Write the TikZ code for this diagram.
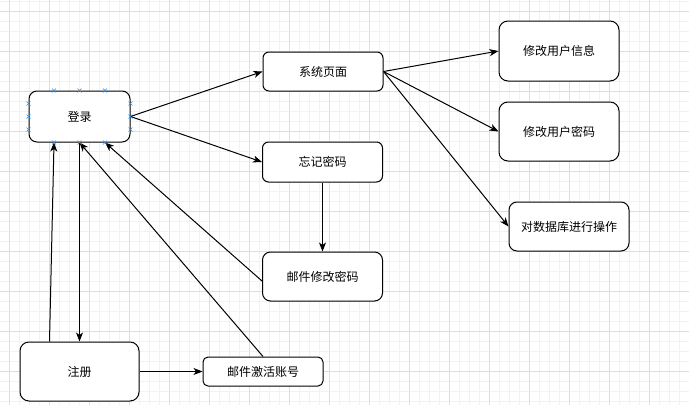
\documentclass[tikz,border=0pt]{standalone}
\usepackage{fontspec}
\setmainfont{Noto Sans CJK SC}
\usetikzlibrary{arrows.meta,calc}
\definecolor{mk}{HTML}{1E90FF}
\begin{document}
\begin{tikzpicture}[x=1pt,y=-1pt,
  box/.style={draw=black,line width=1pt,fill=white,inner sep=0pt,font=\fontsize{12pt}{14pt}\selectfont},
  conn/.style={line width=1pt,-{Stealth[length=9pt,width=7pt,inset=2.5pt]}},
  mkx/.style={draw=mk,line width=0.6pt}]
\useasboundingbox (0,0) rectangle (689,405);
\fill[white] (0,0) rectangle (689,405);
% grid
\foreach \x in {9,19,...,689} \draw[line width=0.6pt,black!5] (\x,0) -- (\x,405);
\foreach \y in {1,11,...,405} \draw[line width=0.6pt,black!5] (0,\y) -- (689,\y);
\foreach \x in {9,49,...,689} \draw[line width=0.8pt,black!13] (\x,0) -- (\x,405);
\foreach \y in {11,51,...,405} \draw[line width=0.8pt,black!13] (0,\y) -- (689,\y);
% nodes
\node[box,rounded corners=8pt,minimum width=101pt,minimum height=51pt] (login) at (79.5,116.5) {登录};
\node[box,rounded corners=6pt,minimum width=120pt,minimum height=39pt] (sys) at (323,71.5) {系统页面};
\node[box,rounded corners=6pt,minimum width=120pt,minimum height=40pt] (forget) at (322.5,162) {忘记密码};
\node[box,rounded corners=8pt,minimum width=120pt,minimum height=49pt] (mailpw) at (322.5,276.5) {邮件修改密码};
\node[box,rounded corners=9pt,minimum width=120pt,minimum height=60pt] (info) at (559,51) {修改用户信息};
\node[box,rounded corners=9pt,minimum width=120pt,minimum height=59pt] (pwd) at (559,131.5) {修改用户密码};
\node[box,rounded corners=8pt,minimum width=120pt,minimum height=49pt] (db) at (569,226.5) {对数据库进行操作};
\node[box,rounded corners=9pt,minimum width=119pt,minimum height=59pt] (reg) at (79.5,371.5) {注册};
\node[box,rounded corners=5pt,minimum width=120pt,minimum height=29pt] (act) at (263,371.5) {邮件激活账号};
% connectors
\draw[conn] (login.east) -- (sys.west);
\draw[conn] (login.east) -- (forget.west);
\draw[conn] (sys.east) -- (info.west);
\draw[conn] (sys.east) -- (pwd.west);
\draw[conn] (sys.east) -- (db.west);
\draw[conn] (forget.south) -- (mailpw.north);
\draw[conn] ($(mailpw.west)+(0,4.5)$) -- ($(login.south west)!0.75!(login.south east)$);
\draw[conn] (act.north) -- (login.south);
\draw[conn] ($(reg.north west)!0.25!(reg.north east)$) -- ($(login.south west)!0.25!(login.south east)$);
\draw[conn] (login.south) -- (reg.north);
\draw[conn] (reg.east) -- (act.west);
% connection markers on login
\foreach \t in {0.25,0.5,0.75}{
  \coordinate (mt) at ($(login.north west)!\t!(login.north east)$);
  \coordinate (mb) at ($(login.south west)!\t!(login.south east)$);
  \coordinate (ml) at ($(login.north west)!\t!(login.south west)$);
  \coordinate (mr) at ($(login.north east)!\t!(login.south east)$);
  \foreach \c in {mt,mb,ml,mr}{
    \draw[mkx] ($(\c)+(-2,-2)$) -- ($(\c)+(2,2)$);
    \draw[mkx] ($(\c)+(-2,2)$) -- ($(\c)+(2,-2)$);
  }
}
\end{tikzpicture}
\end{document}
